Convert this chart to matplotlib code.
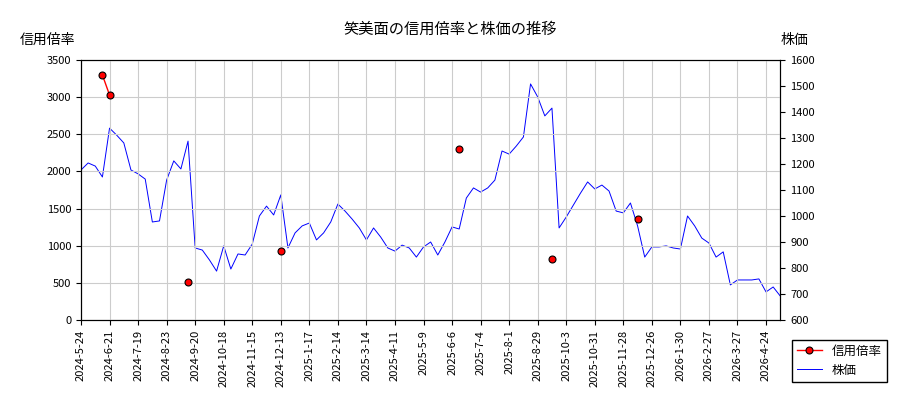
import matplotlib
matplotlib.use("Agg")
import matplotlib.pyplot as plt
import numpy as np

plt.rcParams['font.family'] = ['Noto Sans CJK JP', 'DejaVu Sans']

tick_labels = ["2024-5-24","2024-6-21","2024-7-19","2024-8-23","2024-9-20","2024-10-18","2024-11-15",
               "2024-12-13","2025-1-17","2025-2-14","2025-3-14","2025-4-11","2025-5-9","2025-6-6",
               "2025-7-4","2025-8-1","2025-8-29","2025-10-3","2025-10-31","2025-11-28","2025-12-26",
               "2026-1-30","2026-2-27","2026-3-27","2026-4-24"]

price = [1177,1204,1192,1150,1338,1311,1281,1177,1162,1142,977,981,1138,1212,1181,1288,877,869,831,788,
         885,796,854,850,892,1000,1038,1004,1081,877,935,962,973,908,935,977,1046,1019,988,954,
         908,954,919,877,865,888,877,842,881,900,850,900,958,950,1069,1108,1092,1108,1138,1250,
         1238,1269,1304,1508,1458,1385,1415,954,996,1042,1088,1131,1104,1119,1096,1019,1012,1050,962,842,
         881,881,885,877,873,1000,962,915,896,842,862,735,754,754,754,758,708,727,692]

ratio_idx = [3, 4, 15, 28, 53, 66, 78]
ratio_val = [3298, 3029, 512, 929, 2302, 821, 1360]

n = len(price)
ratio = np.full(n, np.nan)
for i, v in zip(ratio_idx, ratio_val):
    ratio[i] = v

fig = plt.figure(figsize=(9, 4), dpi=100)
ax = fig.add_axes([0.09, 0.2, 0.777, 0.65])
ax2 = ax.twinx()
x = np.arange(n)
l1, = ax.plot(x, ratio, color='red', marker='o', markersize=5, markerfacecolor='red',
              markeredgecolor='black', markeredgewidth=0.8, linewidth=1, label='信用倍率', zorder=5)
l2, = ax2.plot(x, price, color='blue', linewidth=0.7, label='株価')
ax.set_zorder(ax2.get_zorder() + 1)
ax.patch.set_visible(False)

ax.set_xlim(0, n - 1)
ax.set_ylim(0, 3500)
ax2.set_ylim(600, 1600)
ax.set_yticks(range(0, 3501, 500))
ax2.set_yticks(range(600, 1601, 100))
ax.set_xticks(np.arange(len(tick_labels)) * 4)
ax.set_xticklabels(tick_labels, rotation=90, fontsize=8)
ax.tick_params(axis='y', labelsize=8)
ax2.tick_params(axis='y', labelsize=8)
ax.grid(True, color='#cccccc', linewidth=0.8)

fig.text(0.5, 0.915, '笑美面の信用倍率と株価の推移', ha='center', fontsize=11)
fig.text(0.022, 0.89, '信用倍率', fontsize=10)
fig.text(0.867, 0.89, '株価', fontsize=10)
fig.legend([l1, l2], ['信用倍率', '株価'], loc='lower right', bbox_to_anchor=(0.992, 0.03),
           fontsize=9, framealpha=1, edgecolor='black', fancybox=False)
fig.savefig('out.png')
